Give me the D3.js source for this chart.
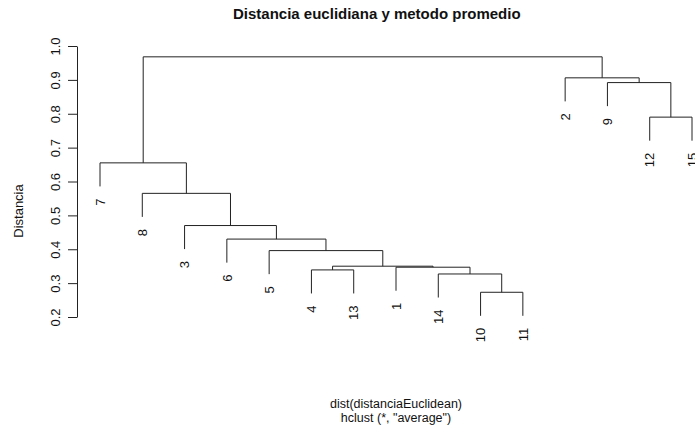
<!DOCTYPE html>
<html>
<head>
<meta charset="utf-8">
<script src="https://cdn.jsdelivr.net/npm/d3@7"></script>
<style>
  body { margin: 0; background: #fff; }
  svg { display: block; font-family: "Liberation Sans", Arial, sans-serif; }
</style>
</head>
<body>
<div id="chart"></div>
<script>
"use strict";

// leaf order along the x axis (as R plots it)
var leafLabels = ["7", "8", "3", "6", "5", "4", "13", "1", "14", "10", "11", "2", "9", "12", "15"];

// hclust merge matrix, R style: negative = leaf (by label), positive = earlier merge step
var mergeA = [-10, -14, -4, -1, 3, -5, -6, -3, -8, -7, -12, -9, -2, 10];
var mergeB = [-11, 1, -13, 2, 4, 5, 6, 7, 8, 9, -15, 11, 12, 13];
var mergeHeight = [0.273, 0.327, 0.339, 0.347, 0.350, 0.396, 0.430, 0.470, 0.565, 0.655, 0.790, 0.892, 0.906, 0.968];

var yTicks = [0.2, 0.3, 0.4, 0.5, 0.6, 0.7, 0.8, 0.9, 1.0];

var w = 695, h = 443;
var hang = 0.1;
var lineCol = "#222";
var txtCol = "#111";

var svg = d3.select("#chart")
    .append("svg")
    .attr("width", w)
    .attr("height", h);

var x = d3.scaleLinear()
    .domain([1, leafLabels.length])
    .range([100, 692]);

var y = d3.scaleLinear()
    .domain([0.2, 1.0])
    .range([317, 46]);

var hangAmt = hang * (d3.max(mergeHeight) - d3.min(mergeHeight));

var merged = [];
var segs = [];
var leaves = [];

// position of leaf / merge node
function node(id) {
    if (id < 0) {
        var lab = String(-id);
        return { x: x(leafLabels.indexOf(lab) + 1), leaf: true, label: lab };
    }
    return merged[id - 1];
}

for (var i = 0; i < mergeA.length; i++) {
    var a = node(mergeA[i]), b = node(mergeB[i]);
    var hm = mergeHeight[i];
    var ha = a.leaf ? hm - hangAmt : a.h;
    var hb = b.leaf ? hm - hangAmt : b.h;
    if (a.leaf) { a.end = ha; leaves.push(a); }
    if (b.leaf) { b.end = hb; leaves.push(b); }
    segs.push({ xa: a.x, ya: ha, xb: b.x, yb: hb, h: hm });
    merged.push({ x: (a.x + b.x) / 2, h: hm, leaf: false });
}

// dendrogram branches
svg.append("g")
    .selectAll("path")
    .data(segs)
    .enter()
    .append("path")
    .attr("fill", "none")
    .attr("stroke", lineCol)
    .attr("stroke-width", 1)
    .attr("d", function(d) {
        return "M" + d.xa + "," + y(d.ya) +
            "V" + y(d.h) +
            "H" + d.xb +
            "V" + y(d.yb);
    });

// leaf labels, rotated like R's plot.hclust
svg.append("g")
    .selectAll("text")
    .data(leaves)
    .enter()
    .append("text")
    .attr("transform", function(d) {
        return "translate(" + d.x + "," + (y(d.end) + 12) + ") rotate(-90)";
    })
    .attr("text-anchor", "end")
    .attr("dy", "0.36em")
    .style("font-size", "13px")
    .attr("fill", txtCol)
    .text(function(d) { return d.label; });

// y axis
var yAxis = d3.axisLeft(y)
    .tickValues(yTicks)
    .tickSize(9)
    .tickSizeOuter(0)
    .tickPadding(0)
    .tickFormat(d3.format(".1f"));

var ag = svg.append("g")
    .attr("transform", "translate(77,0)")
    .call(yAxis);

ag.select(".domain").attr("stroke", lineCol);
ag.selectAll(".tick line").attr("stroke", lineCol);
ag.selectAll(".tick text")
    .attr("x", null)
    .attr("transform", "translate(-22,0) rotate(-90)")
    .attr("text-anchor", "middle")
    .attr("dy", "0.36em")
    .style("font-size", "13px")
    .style("font-family", "Liberation Sans, Arial, sans-serif")
    .attr("fill", txtCol);

// titles
svg.append("text")
    .attr("x", 233)
    .attr("y", 19)
    .attr("text-anchor", "start")
    .style("font-size", "15px")
    .style("font-weight", "bold")
    .attr("fill", txtCol)
    .text("Distancia euclidiana y metodo promedio");

svg.append("text")
    .attr("transform", "translate(23,211) rotate(-90)")
    .attr("text-anchor", "middle")
    .style("font-size", "13px")
    .attr("fill", txtCol)
    .text("Distancia");

svg.append("text")
    .attr("x", 396)
    .attr("y", 408)
    .attr("text-anchor", "middle")
    .style("font-size", "12.5px")
    .attr("fill", txtCol)
    .text("dist(distanciaEuclidean)");

svg.append("text")
    .attr("x", 396)
    .attr("y", 422)
    .attr("text-anchor", "middle")
    .style("font-size", "12.5px")
    .attr("fill", txtCol)
    .text("hclust (*, \"average\")");
</script>
</body>
</html>
